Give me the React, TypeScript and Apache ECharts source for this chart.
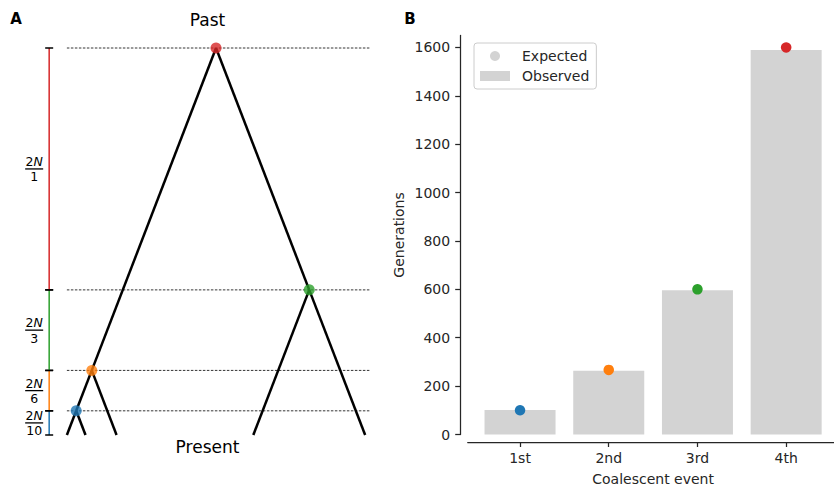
import React, { useEffect, useRef } from "react";
import * as echarts from "echarts";

// ---- data ----
const events = ["1st", "2nd", "3rd", "4th"];
const expected = [100, 267, 600, 1600]; // generations (2N = 1000)
const observed = [101, 264, 596, 1590];
const eventColors = ["#1f77b4", "#ff7f0e", "#2ca02c", "#d62728"];
const denominators = ["10", "6", "3", "1"];
const yTicks = [0, 200, 400, 600, 800, 1000, 1200, 1400, 1600];
const xTicks = [0, 1, 2, 3];

// tree (panel A): x position of each coalescent node (time = expected), leaves at time 0
const coalX = [-1500, -1333, 1000, 0];
const coalParent = [1, 3, 3, -1];
const leafX = [-1600, -1400, -1067, 400, 1600];
const leafParent = [0, 0, 1, 2, 2];

const FONT = "DejaVu Sans";
const TXT = "#262626";
const BAR_X = -1790;
const DASH_X0 = -1600;
const DASH_X1 = 1650;

export default function App() {
  const ref = useRef<HTMLDivElement>(null);
  useEffect(() => {
    if (!ref.current) return;
    const chart = echarts.init(ref.current, null, { renderer: "svg" });

    const edges: any[] = [];
    coalX.forEach((x, i) => {
      const p = coalParent[i];
      if (p >= 0) edges.push({ coords: [[coalX[p], expected[p]], [x, expected[i]]] });
    });
    leafX.forEach((x, i) => {
      const p = leafParent[i];
      edges.push({ coords: [[coalX[p], expected[p]], [x, 0]] });
    });

    const segData = expected.map((t, i) => [i === 0 ? 0 : expected[i - 1], t, i]);

    const option: any = {
      animation: false,
      grid: [
        { left: 29.6, top: 48, width: 354.2, height: 387, outerBoundsMode: "none" },
        { left: 467.7, top: 35.4, width: 370.8, height: 399.1, outerBoundsMode: "none" },
      ],
      xAxis: [
        { type: "value", gridIndex: 0, min: -2000, max: 1800, show: false },
        {
          type: "value",
          gridIndex: 1,
          min: -0.59,
          max: 3.59,
          offset: 7.5,
          splitLine: { show: false },
          axisLine: { show: true, onZero: false, lineStyle: { color: TXT, width: 1.25 } },
          axisTick: { show: true, customValues: xTicks, length: 5, lineStyle: { color: TXT, width: 1.25 } },
          axisLabel: {
            customValues: xTicks,
            formatter: (v: number) => events[Math.round(v)],
            fontSize: 14,
            fontFamily: FONT,
            color: TXT,
            margin: 9,
          },
          name: "Coalescent event",
          nameLocation: "middle",
          nameGap: 30,
          nameTextStyle: { fontSize: 14, fontFamily: FONT, color: TXT },
        },
      ],
      yAxis: [
        { type: "value", gridIndex: 0, min: 0, max: 1600, show: false },
        {
          type: "value",
          gridIndex: 1,
          min: 0,
          max: 1650,
          offset: 7.5,
          splitLine: { show: false },
          axisLine: { show: true, onZero: false, lineStyle: { color: TXT, width: 1.25 } },
          axisTick: { show: true, customValues: yTicks, length: 5, lineStyle: { color: TXT, width: 1.25 } },
          axisLabel: {
            customValues: yTicks,
            formatter: (v: number) => String(v),
            fontSize: 14,
            fontFamily: FONT,
            color: TXT,
            margin: 10,
          },
          name: "Generations",
          nameLocation: "middle",
          nameGap: 54,
          nameTextStyle: { fontSize: 14, fontFamily: FONT, color: TXT },
        },
      ],
      legend: {
        orient: "vertical",
        left: 474,
        top: 43,
        itemWidth: 30,
        itemHeight: 10,
        itemGap: 4,
        padding: [5, 7, 5, 6],
        borderColor: "#cccccc",
        borderWidth: 1,
        borderRadius: 3,
        backgroundColor: "#ffffff",
        selectedMode: false,
        textStyle: { fontSize: 14, fontFamily: FONT, color: TXT, lineHeight: 16, padding: [0, 0, 0, 7] },
        data: [
          { name: "Expected", icon: "circle" },
          { name: "Observed", icon: "rect" },
        ],
      },
      series: [
        // dashed horizontal lines (panel A)
        {
          type: "custom",
          xAxisIndex: 0,
          yAxisIndex: 0,
          data: expected.map((t) => [DASH_X0, t]),
          z: 1,
          renderItem: (params: any, api: any) => {
            const t = api.value(1);
            const a = api.coord([DASH_X0, t]);
            const b = api.coord([DASH_X1, t]);
            return {
              type: "line",
              shape: { x1: a[0], y1: a[1], x2: b[0], y2: b[1] },
              style: { stroke: "#000", lineWidth: 0.8, lineDash: [2.5, 1.5] },
            };
          },
        },
        // tree branches
        {
          type: "lines",
          coordinateSystem: "cartesian2d",
          xAxisIndex: 0,
          yAxisIndex: 0,
          data: edges,
          z: 2,
          lineStyle: { color: "#000", width: 2.5, opacity: 1 },
        },
        // coalescent nodes
        {
          type: "scatter",
          xAxisIndex: 0,
          yAxisIndex: 0,
          symbolSize: 11,
          z: 3,
          data: coalX.map((x, i) => ({ value: [x, expected[i]], itemStyle: { color: eventColors[i] } })),
        },
        // colored time bar + fractions
        {
          type: "custom",
          xAxisIndex: 0,
          yAxisIndex: 0,
          data: segData,
          z: 4,
          renderItem: (params: any, api: any) => {
            const s = api.value(0);
            const e = api.value(1);
            const i = api.value(2);
            const p0 = api.coord([BAR_X, s]);
            const p1 = api.coord([BAR_X, e]);
            const cx = p0[0] - 15;
            const cy = (p0[1] + p1[1]) / 2;
            return {
              type: "group",
              children: [
                {
                  type: "line",
                  shape: { x1: p0[0], y1: p0[1], x2: p1[0], y2: p1[1] },
                  style: { stroke: eventColors[i], lineWidth: 1.5 },
                },
                {
                  type: "line",
                  shape: { x1: p0[0] - 4, y1: p0[1], x2: p0[0] + 4, y2: p0[1] },
                  style: { stroke: "#000", lineWidth: 1.5 },
                },
                {
                  type: "line",
                  shape: { x1: p1[0] - 4, y1: p1[1], x2: p1[0] + 4, y2: p1[1] },
                  style: { stroke: "#000", lineWidth: 1.5 },
                },
                {
                  type: "line",
                  shape: { x1: cx - 9, y1: cy, x2: cx + 9, y2: cy },
                  style: { stroke: "#000", lineWidth: 1.3 },
                },
                {
                  type: "text",
                  x: cx,
                  y: cy - 1,
                  style: {
                    text: "2{i|N}",
                    rich: { i: { fontStyle: "italic", fontSize: 12.5, fontFamily: FONT, fill: "#000" } },
                    fontSize: 12.5,
                    fontFamily: FONT,
                    fill: "#000",
                    align: "center",
                    verticalAlign: "bottom",
                  },
                },
                {
                  type: "text",
                  x: cx,
                  y: cy + 1.5,
                  style: {
                    text: denominators[i],
                    fontSize: 12.5,
                    fontFamily: FONT,
                    fill: "#000",
                    align: "center",
                    verticalAlign: "top",
                  },
                },
              ],
            };
          },
        },
        // panel B
        {
          name: "Observed",
          type: "bar",
          xAxisIndex: 1,
          yAxisIndex: 1,
          barWidth: 71,
          itemStyle: { color: "#d3d3d3" },
          data: observed.map((v, i) => [i, v]),
          z: 2,
        },
        {
          name: "Expected",
          type: "scatter",
          xAxisIndex: 1,
          yAxisIndex: 1,
          symbolSize: 10.5,
          itemStyle: { color: "#d3d3d3", opacity: 1 },
          data: expected.map((v, i) => ({ value: [i, v], itemStyle: { color: eventColors[i] } })),
          z: 3,
        },
      ],
      graphic: [
        { type: "text", x: 16, y: 19, style: { text: "A", fontSize: 15, fontWeight: "bold", fontFamily: FONT, fill: "#000", align: "center", verticalAlign: "middle" } },
        { type: "text", x: 410, y: 19, style: { text: "B", fontSize: 15, fontWeight: "bold", fontFamily: FONT, fill: "#000", align: "center", verticalAlign: "middle" } },
        { type: "text", x: 207.5, y: 20, style: { text: "Past", fontSize: 17, fontFamily: FONT, fill: "#000", align: "center", verticalAlign: "middle" } },
        { type: "text", x: 207.5, y: 447, style: { text: "Present", fontSize: 17, fontFamily: FONT, fill: "#000", align: "center", verticalAlign: "middle" } },
      ],
    };

    chart.setOption(option);
    return () => chart.dispose();
  }, []);

  return <div ref={ref} style={{ position: "absolute", left: 0, top: 0, width: 834, height: 487 }} />;
}
